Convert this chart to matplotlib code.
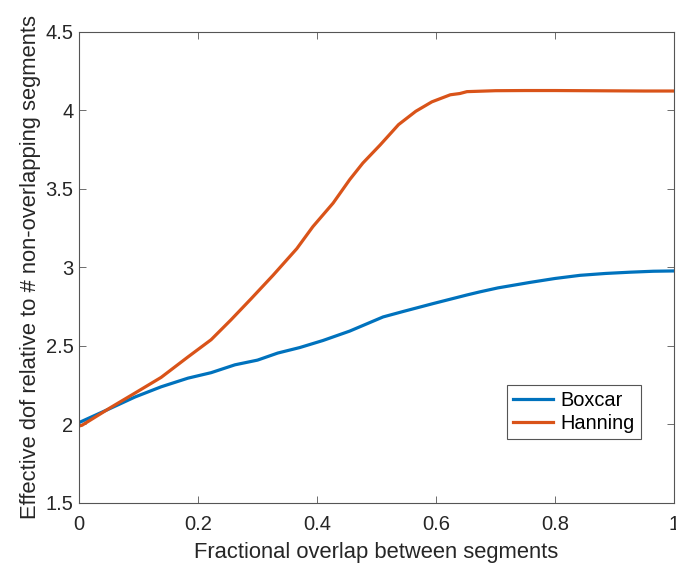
import numpy as np
import matplotlib
matplotlib.use("Agg")
import matplotlib.pyplot as plt

# values
overlap_box = [0.0, 0.054, 0.094, 0.138, 0.183, 0.222, 0.262, 0.30, 0.334, 0.371, 0.41,
               0.455, 0.511, 0.545, 0.595, 0.652, 0.674, 0.704, 0.758, 0.80, 0.842,
               0.885, 0.926, 0.965, 1.0]
dof_box = [2.012, 2.105, 2.175, 2.24, 2.295, 2.33, 2.38, 2.41, 2.455, 2.49, 2.535,
           2.595, 2.685, 2.72, 2.77, 2.825, 2.845, 2.87, 2.905, 2.93, 2.95,
           2.962, 2.97, 2.976, 2.978]

overlap_han = [0.0, 0.005, 0.054, 0.094, 0.138, 0.183, 0.222, 0.255, 0.289, 0.326, 0.366,
               0.393, 0.427, 0.455, 0.477, 0.506, 0.537, 0.566, 0.593, 0.624, 0.64,
               0.652, 0.70, 0.75, 0.80, 0.85, 0.90, 0.95, 1.0]
dof_han = [1.99, 1.995, 2.11, 2.20, 2.30, 2.43, 2.54, 2.665, 2.80, 2.95, 3.12,
           3.26, 3.41, 3.56, 3.665, 3.78, 3.91, 3.995, 4.055, 4.10, 4.108,
           4.12, 4.126, 4.127, 4.127, 4.126, 4.125, 4.124, 4.124]

labels = ["Boxcar", "Hanning"]
colors = ["#0072BD", "#D95319"]

plt.rcParams["font.family"] = ["Liberation Sans", "DejaVu Sans"]

fig = plt.figure(figsize=(6.76, 5.67), dpi=100)
ax = fig.add_axes([0.1169, 0.1129, 0.8802, 0.8307])

ax.plot(overlap_box, dof_box, color=colors[0], lw=2.3, label=labels[0])
ax.plot(overlap_han, dof_han, color=colors[1], lw=2.3, label=labels[1])

ax.set_xlim(0, 1)
ax.set_ylim(1.5, 4.5)
ax.set_xticks([0, 0.2, 0.4, 0.6, 0.8, 1])
ax.set_xticklabels(["0", "0.2", "0.4", "0.6", "0.8", "1"])
ax.set_yticks([1.5, 2, 2.5, 3, 3.5, 4, 4.5])
ax.set_yticklabels(["1.5", "2", "2.5", "3", "3.5", "4", "4.5"])

axcol = "#262626"
for s in ax.spines.values():
    s.set_color("#555555")
    s.set_linewidth(0.8)
ax.tick_params(direction="in", length=5, width=0.6, color="#555555",
               top=True, right=True, labelsize=14.5, labelcolor=axcol, pad=4)
ax.tick_params(axis="x", pad=8.5)

ax.set_xlabel("Fractional overlap between segments", fontsize=15.8, color=axcol, labelpad=6)
ax.set_ylabel("Effective dof relative to # non-overlapping segments", fontsize=15.8,
              color=axcol, labelpad=3)

leg = ax.legend(loc="lower left", bbox_to_anchor=(0.719, 0.136), fontsize=14.4,
                fancybox=False, framealpha=1, edgecolor="#555555", borderpad=0.3,
                handlelength=2.0, handletextpad=0.4, labelspacing=0.2, borderaxespad=0)
leg.get_frame().set_linewidth(0.8)

fig.savefig("out.png", dpi=100)
